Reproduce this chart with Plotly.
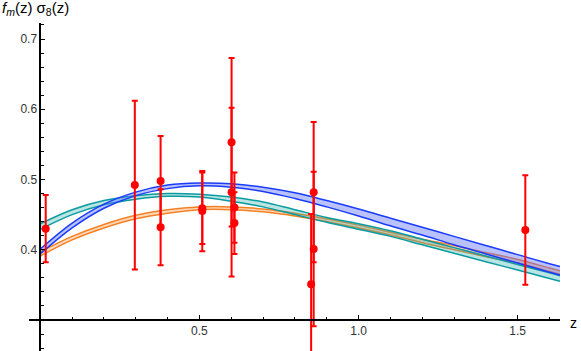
import plotly.graph_objects as go

# ---- data ----
z_grid = [0.0, 0.1, 0.2, 0.3, 0.4, 0.5, 0.6, 0.7, 0.8, 0.9, 1.0, 1.1, 1.2, 1.3, 1.4, 1.5, 1.6, 1.633]

blue_upper = [0.401, 0.438, 0.465, 0.482, 0.492, 0.495, 0.494, 0.489, 0.481, 0.470, 0.458, 0.445, 0.432, 0.419, 0.406, 0.393, 0.380, 0.376]
blue_lower = [0.394, 0.431, 0.459, 0.477, 0.487, 0.491, 0.489, 0.483, 0.473, 0.461, 0.448, 0.434, 0.421, 0.407, 0.394, 0.381, 0.368, 0.364]

teal_upper = [0.437, 0.457, 0.470, 0.477, 0.480, 0.479, 0.475, 0.468, 0.457, 0.446, 0.437, 0.427, 0.415, 0.403, 0.391, 0.379, 0.367, 0.363]
teal_lower = [0.429, 0.450, 0.464, 0.472, 0.476, 0.475, 0.469, 0.461, 0.450, 0.439, 0.429, 0.419, 0.407, 0.395, 0.383, 0.371, 0.359, 0.355]

orange_upper = [0.397, 0.419, 0.436, 0.449, 0.457, 0.461, 0.461, 0.458, 0.452, 0.444, 0.435, 0.425, 0.415, 0.406, 0.396, 0.386, 0.374, 0.370]
orange_lower = [0.391, 0.414, 0.431, 0.444, 0.452, 0.457, 0.457, 0.454, 0.448, 0.440, 0.431, 0.421, 0.410, 0.400, 0.390, 0.381, 0.369, 0.365]

data_z = [0.017, 0.297, 0.378, 0.378, 0.509, 0.509, 0.601, 0.601, 0.610, 0.610, 0.851, 0.859, 0.859, 1.524]
data_fs8 = [0.430, 0.492, 0.498, 0.432, 0.459, 0.455, 0.553, 0.482, 0.460, 0.438, 0.351, 0.482, 0.401, 0.428]
data_err = [0.048, 0.120, 0.064, 0.054, 0.051, 0.057, 0.120, 0.120, 0.050, 0.044, 0.100, 0.100, 0.110, 0.078]

x_ticks = [0.5, 1.0, 1.5]
x_tick_labels = ["0.5", "1.0", "1.5"]
y_ticks = [0.4, 0.5, 0.6, 0.7]
y_tick_labels = ["0.4", "0.5", "0.6", "0.7"]
x_minor = [0.1, 0.2, 0.3, 0.4, 0.6, 0.7, 0.8, 0.9, 1.1, 1.2, 1.3, 1.4, 1.6]
y_minor = [0.26, 0.28, 0.32, 0.34, 0.36, 0.38, 0.42, 0.44, 0.46, 0.48, 0.52, 0.54,
           0.56, 0.58, 0.62, 0.64, 0.66, 0.68, 0.72]

X_RANGE = [-0.0355, 1.633]
Y_RANGE = [0.2558, 0.7228]

fig = go.Figure()

bands = [
    (orange_lower, orange_upper, "rgb(245,128,35)", "rgba(248,150,70,0.35)"),
    (teal_lower, teal_upper, "rgb(10,155,160)", "rgba(60,180,175,0.35)"),
    (blue_lower, blue_upper, "rgb(25,60,250)", "rgba(90,110,250,0.42)"),
]
for lo, up, lc, fc in bands:
    fig.add_trace(go.Scatter(x=z_grid, y=lo, mode="lines",
                             line=dict(color=lc, width=1.5, shape="spline"),
                             showlegend=False, hoverinfo="skip"))
    fig.add_trace(go.Scatter(x=z_grid, y=up, mode="lines", fill="tonexty",
                             fillcolor=fc,
                             line=dict(color=lc, width=1.5, shape="spline"),
                             showlegend=False, hoverinfo="skip"))

fig.add_trace(go.Scatter(
    x=data_z, y=data_fs8, mode="markers",
    marker=dict(color="red", size=8),
    error_y=dict(type="data", array=data_err, visible=True,
                 color="red", thickness=2, width=3),
    showlegend=False))

x_pos = (0.3 - Y_RANGE[0]) / (Y_RANGE[1] - Y_RANGE[0])
y_pos = (0.0 - X_RANGE[0]) / (X_RANGE[1] - X_RANGE[0])

tickfont = dict(family="Liberation Sans, Arial, sans-serif", size=12, color="#333")

fig.update_layout(
    width=581, height=351,
    margin=dict(l=29, r=21, t=23, b=0),
    paper_bgcolor="white", plot_bgcolor="white",
    xaxis=dict(range=X_RANGE, anchor="free", position=x_pos,
               showline=True, linecolor="black", linewidth=1.6,
               showgrid=False, zeroline=False,
               tickmode="array", tickvals=x_ticks, ticktext=x_tick_labels,
               ticks="inside", ticklen=4, tickwidth=1, tickcolor="black",
               tickfont=tickfont,
               minor=dict(tickmode="array", tickvals=x_minor, ticks="inside",
                          ticklen=2.5, tickwidth=1, tickcolor="black", showgrid=False)),
    yaxis=dict(range=Y_RANGE, anchor="free", position=y_pos,
               showline=True, linecolor="black", linewidth=1.6,
               showgrid=False, zeroline=False,
               tickmode="array", tickvals=y_ticks, ticktext=y_tick_labels,
               ticks="inside", ticklen=4, tickwidth=1, tickcolor="black",
               tickfont=tickfont,
               minor=dict(tickmode="array", tickvals=y_minor, ticks="inside",
                          ticklen=2.5, tickwidth=1, tickcolor="black", showgrid=False)),
    annotations=[
        dict(text="<i>f</i><sub><i>m</i></sub>(z) σ<sub>8</sub>(z)",
             xref="paper", yref="paper", x=-29 / 531, y=1 + (23 - 9) / 328,
             xanchor="left", yanchor="middle", showarrow=False,
             font=dict(family="Liberation Sans, Arial, sans-serif", size=15, color="black")),
        dict(text="z", xref="paper", yref="paper",
             x=(573 - 29) / 531, y=1 - (323 - 23) / 328,
             xanchor="center", yanchor="middle", showarrow=False,
             font=dict(family="Liberation Sans, Arial, sans-serif", size=14, color="black")),
    ],
)

fig.write_html("out.html", config={"displayModeBar": False},
               post_script="document.body.style.margin='0';document.body.style.overflow='hidden';")
